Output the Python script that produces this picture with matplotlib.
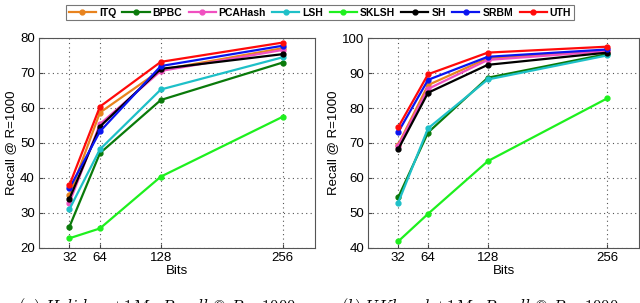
import matplotlib
matplotlib.use("Agg")
import matplotlib.pyplot as plt
from matplotlib.lines import Line2D

plt.rcParams['font.family'] = ['Liberation Sans', 'DejaVu Sans']
plt.rcParams['mathtext.fontset'] = 'cm'

bits = [32, 64, 128, 256]
methods = ["ITQ", "BPBC", "PCAHash", "LSH", "SKLSH", "SH", "SRBM", "UTH"]
colors = ["#E8831E", "#0A7A0A", "#F050C0", "#1EC0C8", "#1EF01E", "#000000", "#0A14F0", "#FF0A0A"]

holidays = {
    "ITQ":     [35.0, 58.6, 70.8, 77.0],
    "BPBC":    [26.0, 47.0, 62.2, 72.9],
    "PCAHash": [32.9, 55.3, 70.5, 76.5],
    "LSH":     [31.0, 48.1, 65.2, 74.4],
    "SKLSH":   [22.7, 25.5, 40.3, 57.4],
    "SH":      [34.0, 54.6, 71.1, 75.3],
    "SRBM":    [37.0, 53.2, 71.9, 77.7],
    "UTH":     [37.9, 60.3, 73.1, 78.6],
}
ukbench = {
    "ITQ":     [69.5, 86.6, 94.3, 96.5],
    "BPBC":    [54.4, 73.0, 88.7, 95.5],
    "PCAHash": [69.2, 85.5, 93.8, 96.3],
    "LSH":     [52.9, 74.2, 88.2, 95.1],
    "SKLSH":   [41.8, 49.7, 64.8, 82.8],
    "SH":      [68.2, 84.4, 92.4, 95.9],
    "SRBM":    [73.1, 88.1, 94.7, 96.8],
    "UTH":     [74.5, 89.7, 95.9, 97.6],
}
left_yticks = [20, 30, 40, 50, 60, 70, 80]
right_yticks = [40, 50, 60, 70, 80, 90, 100]
xlabel = "Bits"
ylabel = "Recall @ R=1000"
captions = [r"$(a)\ Holidays{+}1M\!:\ Recall\ @\ R = 1000$",
            r"$(b)\ UKbench{+}1M\!:\ Recall\ @\ R = 1000$"]

fig = plt.figure(figsize=(6.4, 3.03), dpi=100)
ax1 = fig.add_axes([39/640, 1-247.7/303, 276/640, 210/303])
ax2 = fig.add_axes([368.3/640, 1-247.7/303, 270.7/640, 209.4/303])

for ax, data, yt in [(ax1, holidays, left_yticks), (ax2, ukbench, right_yticks)]:
    for m, c in zip(methods, colors):
        ax.plot(bits, data[m], color=c, lw=1.6, marker='o', ms=3.5, mec=c, mfc=c)
    ax.set_xlim(0, 290)
    ax.set_ylim(yt[0], yt[-1])
    ax.set_xticks(bits)
    ax.set_yticks(yt)
    ax.grid(True, ls=(0, (1, 3)), color='#555555', lw=0.8)
    ax.tick_params(direction='in', labelsize=9.5, length=3, color='#444444', pad=3)
    for s in ax.spines.values():
        s.set_color('#555555')
        s.set_linewidth(0.8)
    ax.set_xlabel(xlabel, fontsize=9.5, labelpad=1)
    ax.set_ylabel(ylabel, fontsize=9.5, labelpad=2)

handles = [Line2D([], [], color=c, lw=1.6, marker='o', ms=3.5) for c in colors]
leg = fig.legend(handles, methods, loc='upper center', bbox_to_anchor=(0.5, 1.0),
                 ncol=8, fontsize=7.5, frameon=True, fancybox=False,
                 handlelength=2.6, handletextpad=0.3, columnspacing=0.6,
                 borderpad=0.25, prop={'weight': 'bold', 'size': 7.5})
leg.get_frame().set_edgecolor('#555555')
leg.get_frame().set_linewidth(0.8)

fig.text(157/640, 1-296/303, captions[0], fontsize=12, ha='center', va='top')
fig.text(480/640, 1-296/303, captions[1], fontsize=12, ha='center', va='top')

fig.savefig("out.png", dpi=100)
